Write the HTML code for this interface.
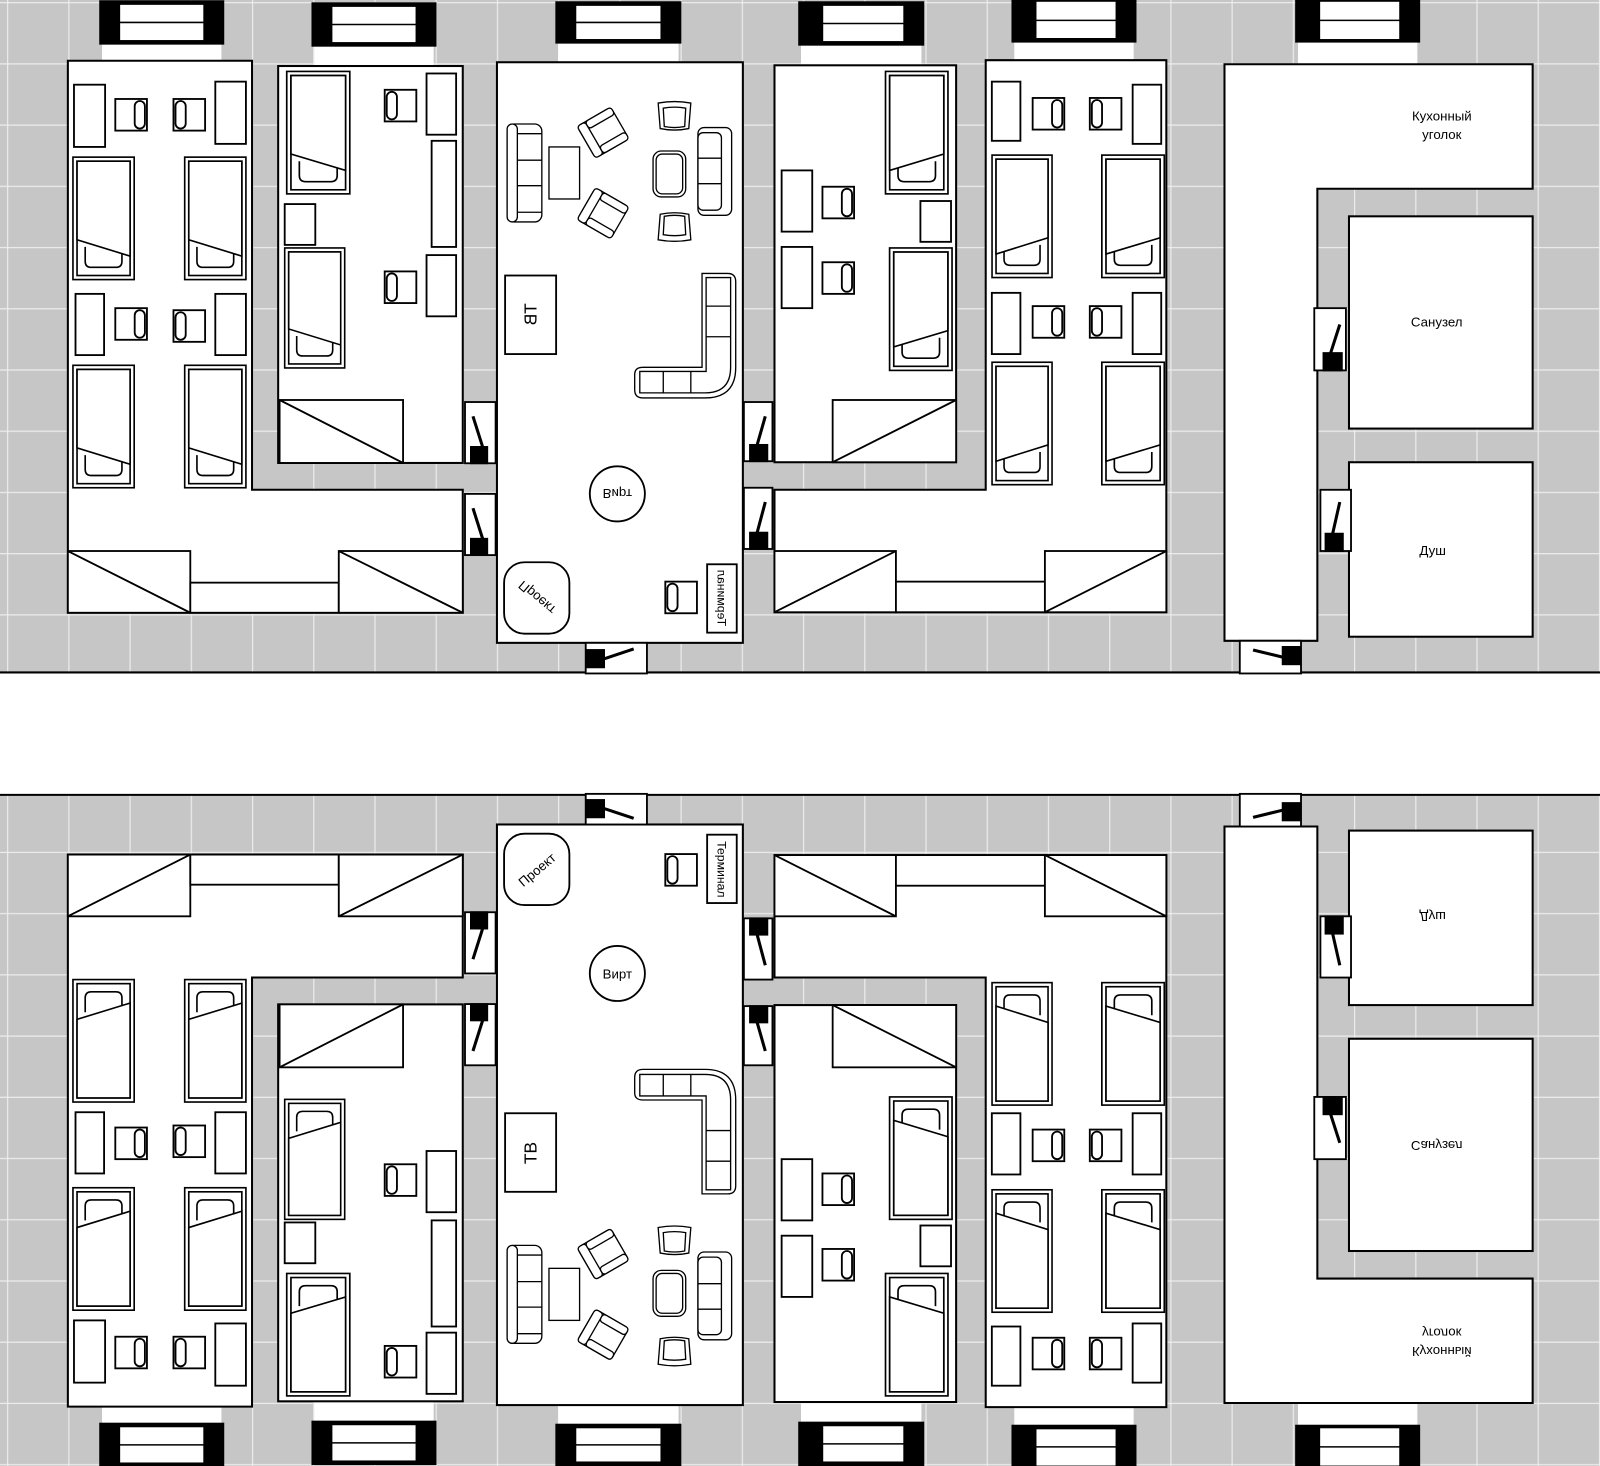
<!DOCTYPE html>
<html><head><meta charset="utf-8"><style>
html,body{margin:0;padding:0;background:#fff;}
svg{display:block;}
text{font-family:"Liberation Sans",sans-serif;fill:#000;}
</style></head><body>
<svg width="1600" height="1466" viewBox="0 0 1568 1436.7" preserveAspectRatio="none" xmlns="http://www.w3.org/2000/svg">
<defs>
<pattern id="grid" patternUnits="userSpaceOnUse" x="6.9" y="2" width="60" height="60">
<rect x="0" y="0" width="60" height="60" fill="#c6c6c6"/>
<line x1="0" y1="0" x2="60" y2="0" stroke="#ececec" stroke-width="2.4"/>
<line x1="0" y1="0" x2="0" y2="60" stroke="#ececec" stroke-width="2.4"/>
</pattern>
<g id="bed" fill="#fff" stroke="#000" stroke-width="1.6">
<rect x="0" y="0" width="60" height="120"/>
<rect x="4" y="4" width="52" height="112"/>
<path d="M12,88 V102 Q12,108 18,108 H42 Q48,108 48,102 V90"/>
<path d="M4,4 H56 V97 L4,81 Z"/>
</g>
<g id="chR" fill="#fff" stroke="#000" stroke-width="1.8">
<rect x="0" y="0" width="31" height="31"/>
<rect x="19" y="2" width="10" height="27" rx="5"/>
</g>
<g id="chL" fill="#fff" stroke="#000" stroke-width="1.8">
<rect x="0" y="0" width="31" height="31"/>
<rect x="2" y="2" width="10" height="27" rx="5"/>
</g>
<g id="arm" fill="#fff" stroke="#000" stroke-width="1.3">
<rect x="-19" y="-18" width="38" height="36" rx="5"/>
<rect x="-19" y="-18" width="9" height="36" rx="3"/>
<rect x="-10" y="-18" width="29" height="8" rx="3"/>
<rect x="-10" y="10" width="29" height="8" rx="3"/>
</g>
<g id="tub" fill="#fff" stroke="#000" stroke-width="1.3">
<path d="M-16,-13 Q0,-16 16,-13 L14,12 Q0,15 -14,12 Z"/>
<path d="M-11,-8 Q0,-10 11,-8 L10,10 Q0,12 -10,10 Z"/>
</g>
<g id="base">
<rect x="0" y="0" width="1568" height="659" fill="url(#grid)"/>
<line x1="0" y1="659" x2="1568" y2="659" stroke="#000" stroke-width="2"/>
<g stroke="#000" stroke-width="1.5">
<rect x="100" y="42" width="117" height="20" fill="#fff" stroke="none"/>
<rect x="98" y="1" width="121" height="42" fill="#000"/>
<rect x="117" y="4" width="83" height="36" fill="#fff"/><line x1="117" y1="22" x2="200" y2="22"/>
<rect x="308" y="44" width="117" height="22" fill="#fff" stroke="none"/>
<rect x="306" y="3" width="121" height="42" fill="#000"/>
<rect x="325" y="6" width="83" height="36" fill="#fff"/><line x1="325" y1="24" x2="408" y2="24"/>
<rect x="547" y="42" width="118" height="20" fill="#fff" stroke="none"/>
<rect x="545" y="2" width="122" height="40" fill="#000"/>
<rect x="564" y="5" width="84" height="34" fill="#fff"/><line x1="564" y1="22" x2="648" y2="22"/>
<rect x="785" y="42" width="118" height="22" fill="#fff" stroke="none"/>
<rect x="783" y="2" width="122" height="42" fill="#000"/>
<rect x="806" y="5" width="80" height="36" fill="#fff"/><line x1="806" y1="23" x2="886" y2="23"/>
<rect x="994" y="40" width="117" height="20" fill="#fff" stroke="none"/>
<rect x="992" y="0" width="121" height="41" fill="#000"/>
<rect x="1015" y="1" width="79" height="37" fill="#fff"/><line x1="1015" y1="20" x2="1094" y2="20"/>
<rect x="1272" y="40" width="117" height="23" fill="#fff" stroke="none"/>
<rect x="1270" y="0" width="121" height="41" fill="#000"/>
<rect x="1293" y="1" width="79" height="38" fill="#fff"/><line x1="1293" y1="20" x2="1372" y2="20"/>
</g>
<g fill="#fff" stroke="#000" stroke-width="2">
<path d="M66.5,59.5 H247 V480 H453.5 V600.5 H66.5 Z"/>
<rect x="272.6" y="64.7" width="180.9" height="389"/>
<rect x="487" y="61" width="241" height="569"/>
<rect x="759" y="64" width="178" height="389"/>
<path d="M966,59 H1143 V600 H759 V480 H966 Z"/>
<path d="M1200,63 H1502 V185 H1291 V628 H1200 Z"/>
<rect x="1322" y="212" width="180" height="208"/>
<rect x="1322" y="453" width="180" height="171"/>
</g>
<g fill="#fff" stroke="#000" stroke-width="1.8">
<rect x="66.5" y="540" width="120" height="60.5"/><line x1="66.5" y1="540" x2="186.5" y2="600.5"/>
<rect x="186.5" y="571" width="145.5" height="29.5"/>
<rect x="332" y="540" width="121.5" height="60.5"/><line x1="332" y1="540" x2="453.5" y2="600.5"/>
<rect x="274" y="392" width="121" height="61.7"/><line x1="274" y1="392" x2="395" y2="453.7"/>
<rect x="816" y="392" width="121" height="61"/><line x1="816" y1="453" x2="937" y2="392"/>
<rect x="759" y="540" width="119" height="60"/><line x1="759" y1="600" x2="878" y2="540"/>
<rect x="878" y="570" width="146" height="30"/>
<rect x="1024" y="540" width="119" height="60"/><line x1="1024" y1="600" x2="1143" y2="540"/>
</g>
<g fill="#fff" stroke="#000" stroke-width="1.8">
<rect x="72.5" y="83" width="30.5" height="61"/><rect x="211" y="80" width="30" height="61"/>
<rect x="74" y="288" width="28" height="60"/><rect x="211" y="288" width="30" height="60"/>
<rect x="279" y="200" width="30" height="40"/>
<rect x="418" y="72" width="29" height="60"/><rect x="423" y="138" width="24" height="104"/><rect x="418" y="250" width="29" height="60"/>
<rect x="766" y="167" width="30" height="60"/><rect x="766" y="242" width="30" height="60"/>
<rect x="902" y="197" width="30" height="40"/>
<rect x="972" y="80" width="28" height="58"/><rect x="1110" y="83" width="28" height="58"/>
<rect x="972" y="287" width="28" height="60"/><rect x="1110" y="287" width="28" height="60"/>
</g>
<use href="#bed" transform="translate(71.5,154)"/><use href="#bed" transform="translate(181,154)"/>
<use href="#bed" transform="translate(71.5,358)"/><use href="#bed" transform="translate(181,358)"/>
<use href="#bed" transform="translate(281,70) scale(1.03,1)"/><use href="#bed" transform="translate(279,243) scale(0.98,0.98)"/>
<use href="#bed" transform="translate(929,70) scale(-1.02,1)"/><use href="#bed" transform="translate(933,243) scale(-1.02,1)"/>
<use href="#bed" transform="translate(1031,152) scale(-0.98,1)"/><use href="#bed" transform="translate(1141,152) scale(-1.02,1)"/>
<use href="#bed" transform="translate(1031,355) scale(-0.98,1)"/><use href="#bed" transform="translate(1141,355) scale(-1.02,1)"/>
<use href="#chR" transform="translate(113,97)"/><use href="#chL" transform="translate(170,97)"/>
<use href="#chR" transform="translate(113,302)"/><use href="#chL" transform="translate(170,304)"/>
<use href="#chL" transform="translate(377,88)"/><use href="#chL" transform="translate(377,266)"/>
<use href="#chR" transform="translate(806,183)"/><use href="#chR" transform="translate(806,257)"/>
<use href="#chR" transform="translate(1012,96)"/><use href="#chL" transform="translate(1068,96)"/>
<use href="#chR" transform="translate(1012,300)"/><use href="#chL" transform="translate(1068,300)"/>
<use href="#chL" transform="translate(652,570)"/>
<g fill="#fff" stroke="#000" stroke-width="1.3">
<rect x="497" y="121.5" width="34" height="96" rx="7"/>
<rect x="497" y="121.5" width="10" height="96" rx="5"/>
<line x1="507" y1="131" x2="531" y2="131"/><line x1="507" y1="157" x2="531" y2="157"/>
<line x1="507" y1="182" x2="531" y2="182"/><line x1="507" y1="208" x2="531" y2="208"/>
<rect x="538" y="144" width="30" height="51"/>
<rect x="684" y="125" width="33" height="86" rx="6"/>
<rect x="684" y="130" width="23" height="76" rx="5"/>
<line x1="684" y1="155" x2="707" y2="155"/><line x1="684" y1="180" x2="707" y2="180"/>
<rect x="640" y="148" width="32" height="45" rx="8"/>
<rect x="643" y="151" width="26" height="39" rx="6"/>
<path d="M688,268 H713 Q721,268 721,276 V360 Q721,390 691,390 H630 Q622,390 622,382 V367 Q622,360 630,360 H688 Z"/>
<path d="M692,272 H716 V360 Q716,385 691,385 H627 V364 H692 Z"/>
<line x1="692" y1="300" x2="716" y2="300"/><line x1="692" y1="330" x2="716" y2="330"/>
<line x1="650" y1="364" x2="650" y2="385"/><line x1="677" y1="364" x2="677" y2="385"/>
</g>
<use href="#arm" transform="translate(591,130) rotate(-30)"/>
<use href="#arm" transform="translate(591,209) rotate(30)"/>
<use href="#tub" transform="translate(661,114)"/>
<use href="#tub" transform="translate(661,222) rotate(180)"/>
<g fill="#fff" stroke="#000" stroke-width="1.8">
<rect x="495" y="270" width="50" height="77"/>
<circle cx="605" cy="484" r="27"/>
<rect x="494" y="551" width="64" height="70" rx="20"/>
<rect x="693" y="553" width="29" height="67"/>
</g>
<g stroke="#000" stroke-width="1.8">
<rect x="455.7" y="394" width="30" height="60" fill="#fff"/>
<rect x="461.5" y="438" width="16" height="16" fill="#000"/>
<line x1="463.5" y1="408" x2="473" y2="438" stroke-width="3"/>
<rect x="455.7" y="484" width="30" height="60" fill="#fff"/>
<rect x="461.5" y="528" width="16" height="16" fill="#000"/>
<line x1="463.5" y1="498" x2="473" y2="528" stroke-width="3"/>
<rect x="729" y="394" width="28" height="58" fill="#fff"/>
<rect x="735" y="436" width="17" height="16" fill="#000"/>
<line x1="750" y1="408" x2="742" y2="436" stroke-width="3"/>
<rect x="729" y="478" width="28" height="60" fill="#fff"/>
<rect x="735" y="522" width="17" height="16" fill="#000"/>
<line x1="750" y1="492" x2="742" y2="522" stroke-width="3"/>
<rect x="1288" y="302" width="31" height="61" fill="#fff"/>
<rect x="1297" y="346" width="18" height="17" fill="#000"/>
<line x1="1313" y1="318" x2="1304" y2="346" stroke-width="3"/>
<rect x="1294" y="480" width="30" height="60" fill="#fff"/>
<rect x="1299" y="523" width="17" height="17" fill="#000"/>
<line x1="1313" y1="492" x2="1306" y2="523" stroke-width="3"/>
<rect x="574" y="630" width="60" height="30" fill="#fff"/>
<rect x="575" y="637" width="17" height="17" fill="#000"/>
<line x1="591" y1="646" x2="621" y2="636" stroke-width="3"/>
<rect x="1215" y="628" width="60" height="32" fill="#fff"/>
<rect x="1257" y="634" width="17" height="17" fill="#000"/>
<line x1="1228" y1="637" x2="1257" y2="644" stroke-width="3"/>
</g>
</g>
</defs>
<rect x="0" y="0" width="1568" height="1437" fill="#fff"/>
<use href="#base"/>
<g font-size="13" text-anchor="middle">
<text x="1413" y="118">Кухонный</text>
<text x="1413" y="136">уголок</text>
<text x="1408" y="320">Санузел</text>
<text x="1404" y="544">Душ</text>
<text transform="translate(520,308) scale(1,-1) rotate(-90)" y="6" font-size="17">ТВ</text>
<text transform="translate(605,484) scale(1,-1)" y="5" font-size="13">Вирт</text>
<text transform="translate(526,586) scale(1,-1) rotate(-40)" y="5" font-size="13">Проект</text>
<text transform="translate(707,586) scale(1,-1) rotate(90)" y="4" font-size="12">Терминал</text>
</g>
<g transform="matrix(1 0 0 -1 0 1438)">
<use href="#base"/>
<g font-size="13" text-anchor="middle">
<text x="1413" y="118">Кухонный</text>
<text x="1413" y="136">уголок</text>
<text x="1408" y="320">Санузел</text>
<text x="1404" y="544">Душ</text>
<text transform="translate(520,308) scale(1,-1) rotate(-90)" y="6" font-size="17">ТВ</text>
<text transform="translate(605,484) scale(1,-1)" y="5" font-size="13">Вирт</text>
<text transform="translate(526,586) scale(1,-1) rotate(-40)" y="5" font-size="13">Проект</text>
<text transform="translate(707,586) scale(1,-1) rotate(90)" y="4" font-size="12">Терминал</text>
</g>
</g>
</svg>
</body></html>
